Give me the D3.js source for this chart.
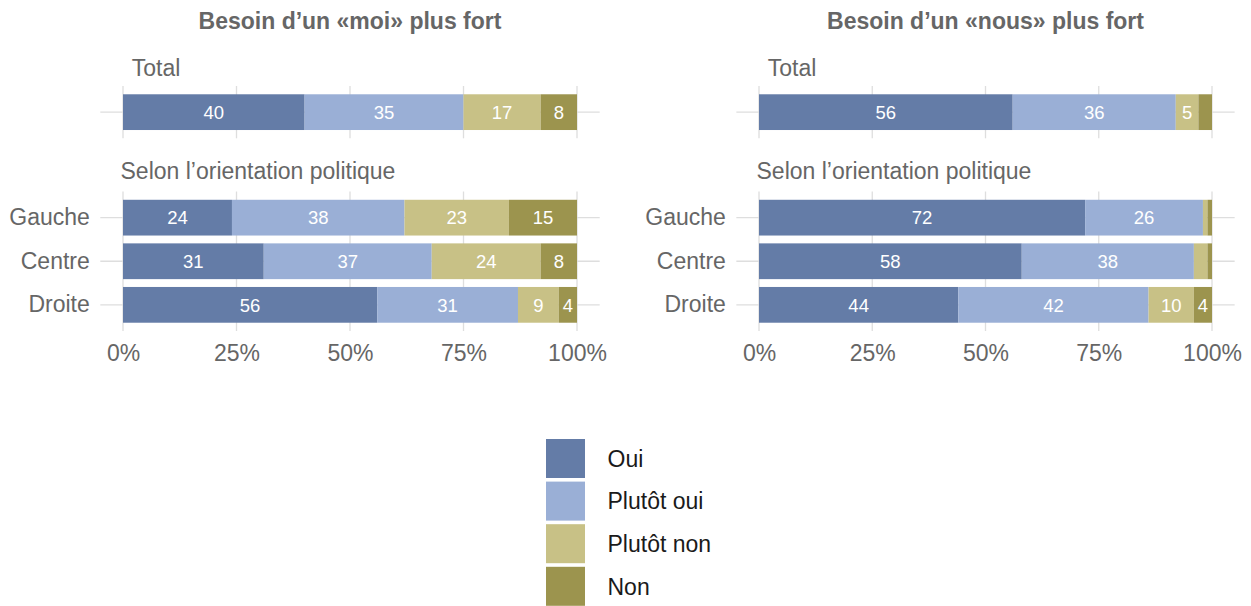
<!DOCTYPE html>
<html lang="fr">
<head>
<meta charset="utf-8">
<script src="https://cdn.jsdelivr.net/npm/d3@7"></script>
<style>
  html, body { margin: 0; padding: 0; background: #fff; }
  svg { display: block; font-family: "Liberation Sans", Arial, Helvetica, sans-serif; }
</style>
</head>
<body>
<svg id="chart" width="1251" height="606"></svg>
<script>
// Response levels, stacked left to right
const levels = ["Oui", "Plutôt oui", "Plutôt non", "Non"];
const levelColors = ["#647ca7", "#9aafd6", "#c8c186", "#9c944e"];
const groups = ["Gauche", "Centre", "Droite"];
const tickValues = [0, 25, 50, 75, 100];

// Besoin d'un «moi» plus fort (%)
const moiTotal  = [40, 35, 17, 8];
const moiGauche = [24, 38, 23, 15];
const moiCentre = [31, 37, 24, 8];
const moiDroite = [56, 31, 9, 4];

// Besoin d'un «nous» plus fort (%)
const nousTotal  = [56, 36, 5, 3];
const nousGauche = [72, 26, 1, 1];
const nousCentre = [58, 38, 3, 1];
const nousDroite = [44, 42, 10, 4];

const panels = [
  { title: "Besoin d’un «moi» plus fort", x0: 123, x1: 577,
    total: moiTotal, rows: [moiGauche, moiCentre, moiDroite] },
  { title: "Besoin d’un «nous» plus fort", x0: 759, x1: 1212,
    total: nousTotal, rows: [nousGauche, nousCentre, nousDroite] }
];

const svg = d3.select("#chart");
const gray = "#666666";
const gridColor = "#dedede";

function stackRow(values) {
  let acc = 0;
  return values.map((v, i) => {
    const seg = { level: levels[i], value: v, start: acc, end: acc + v, color: levelColors[i] };
    acc += v;
    return seg;
  });
}

function drawBlock(g, x, rowNames, rowValues, yTop, yBottom, showAxisLabels, showXAxis) {
  const y = d3.scaleBand()
    .domain(rowNames)
    .range([yTop, yBottom])
    .paddingInner(0.18)
    .paddingOuter(0.19);

  // vertical grid
  g.append("g").selectAll("line")
    .data(tickValues)
    .join("line")
    .attr("x1", d => x(d)).attr("x2", d => x(d))
    .attr("y1", yTop).attr("y2", yBottom)
    .attr("stroke", gridColor).attr("stroke-width", 1.3);

  // horizontal grid at category centres
  g.append("g").selectAll("line")
    .data(rowNames)
    .join("line")
    .attr("x1", x(-5)).attr("x2", x(105))
    .attr("y1", d => y(d) + y.bandwidth() / 2)
    .attr("y2", d => y(d) + y.bandwidth() / 2)
    .attr("stroke", gridColor).attr("stroke-width", 1.3);

  rowNames.forEach((name, r) => {
    const segs = stackRow(rowValues[r]);
    const row = g.append("g");
    row.selectAll("rect")
      .data(segs)
      .join("rect")
      .attr("x", d => x(d.start))
      .attr("width", d => x(d.end) - x(d.start))
      .attr("y", y(name))
      .attr("height", y.bandwidth())
      .attr("fill", d => d.color);
    row.selectAll("text")
      .data(segs.filter(d => d.value > 3))
      .join("text")
      .attr("x", d => x((d.start + d.end) / 2))
      .attr("y", y(name) + y.bandwidth() / 2)
      .attr("dy", "0.36em")
      .attr("text-anchor", "middle")
      .attr("fill", "#ffffff")
      .style("font-size", "18.5px")
      .text(d => d.value);
  });

  if (showAxisLabels) {
    const ax = g.append("g")
      .attr("transform", `translate(${x(-5)},0)`)
      .call(d3.axisLeft(y).tickSize(0).tickPadding(10.5));
    ax.select(".domain").remove();
    ax.selectAll("text")
      .attr("fill", gray)
      .style("font-size", "23px")
      .style("font-family", "inherit");
  }

  if (showXAxis) {
    const ax = g.append("g")
      .attr("transform", `translate(0,${yBottom})`)
      .call(d3.axisBottom(x).tickValues(tickValues).tickFormat(d => d + "%").tickSize(0).tickPadding(13.5));
    ax.select(".domain").remove();
    ax.selectAll("text")
      .attr("fill", gray)
      .style("font-size", "23px")
      .style("font-family", "inherit");
  }
}

panels.forEach((p, i) => {
  const x = d3.scaleLinear().domain([0, 100]).range([p.x0, p.x1]);
  const g = svg.append("g");

  g.append("text")
    .attr("x", x(50)).attr("y", 29)
    .attr("text-anchor", "middle")
    .attr("fill", gray)
    .style("font-size", "23px")
    .style("font-weight", "bold")
    .text(p.title);

  g.append("text")
    .attr("x", x(0) + 8.8).attr("y", 76)
    .attr("fill", gray)
    .style("font-size", "23px")
    .text("Total");

  drawBlock(g, x, ["Total"], [p.total], 86, 138.3, false, false);

  g.append("text")
    .attr("x", x(0) - 2.5).attr("y", 179)
    .attr("fill", gray)
    .style("font-size", "23px")
    .text("Selon l’orientation politique");

  drawBlock(g, x, groups, p.rows, 191.5, 331, true, true);
});

// Legend
const legend = svg.append("g").attr("transform", "translate(546,439)");
const legendRow = legend.selectAll("g")
  .data(levels)
  .join("g")
  .attr("transform", (d, i) => `translate(0,${i * 42.6})`);
legendRow.append("rect")
  .attr("width", 39).attr("height", 39)
  .attr("fill", (d, i) => levelColors[i]);
legendRow.append("text")
  .attr("x", 61.5).attr("y", 19.5)
  .attr("dy", "0.36em")
  .attr("fill", "#1a1a1a")
  .style("font-size", "23px")
  .text(d => d);
</script>
</body>
</html>
